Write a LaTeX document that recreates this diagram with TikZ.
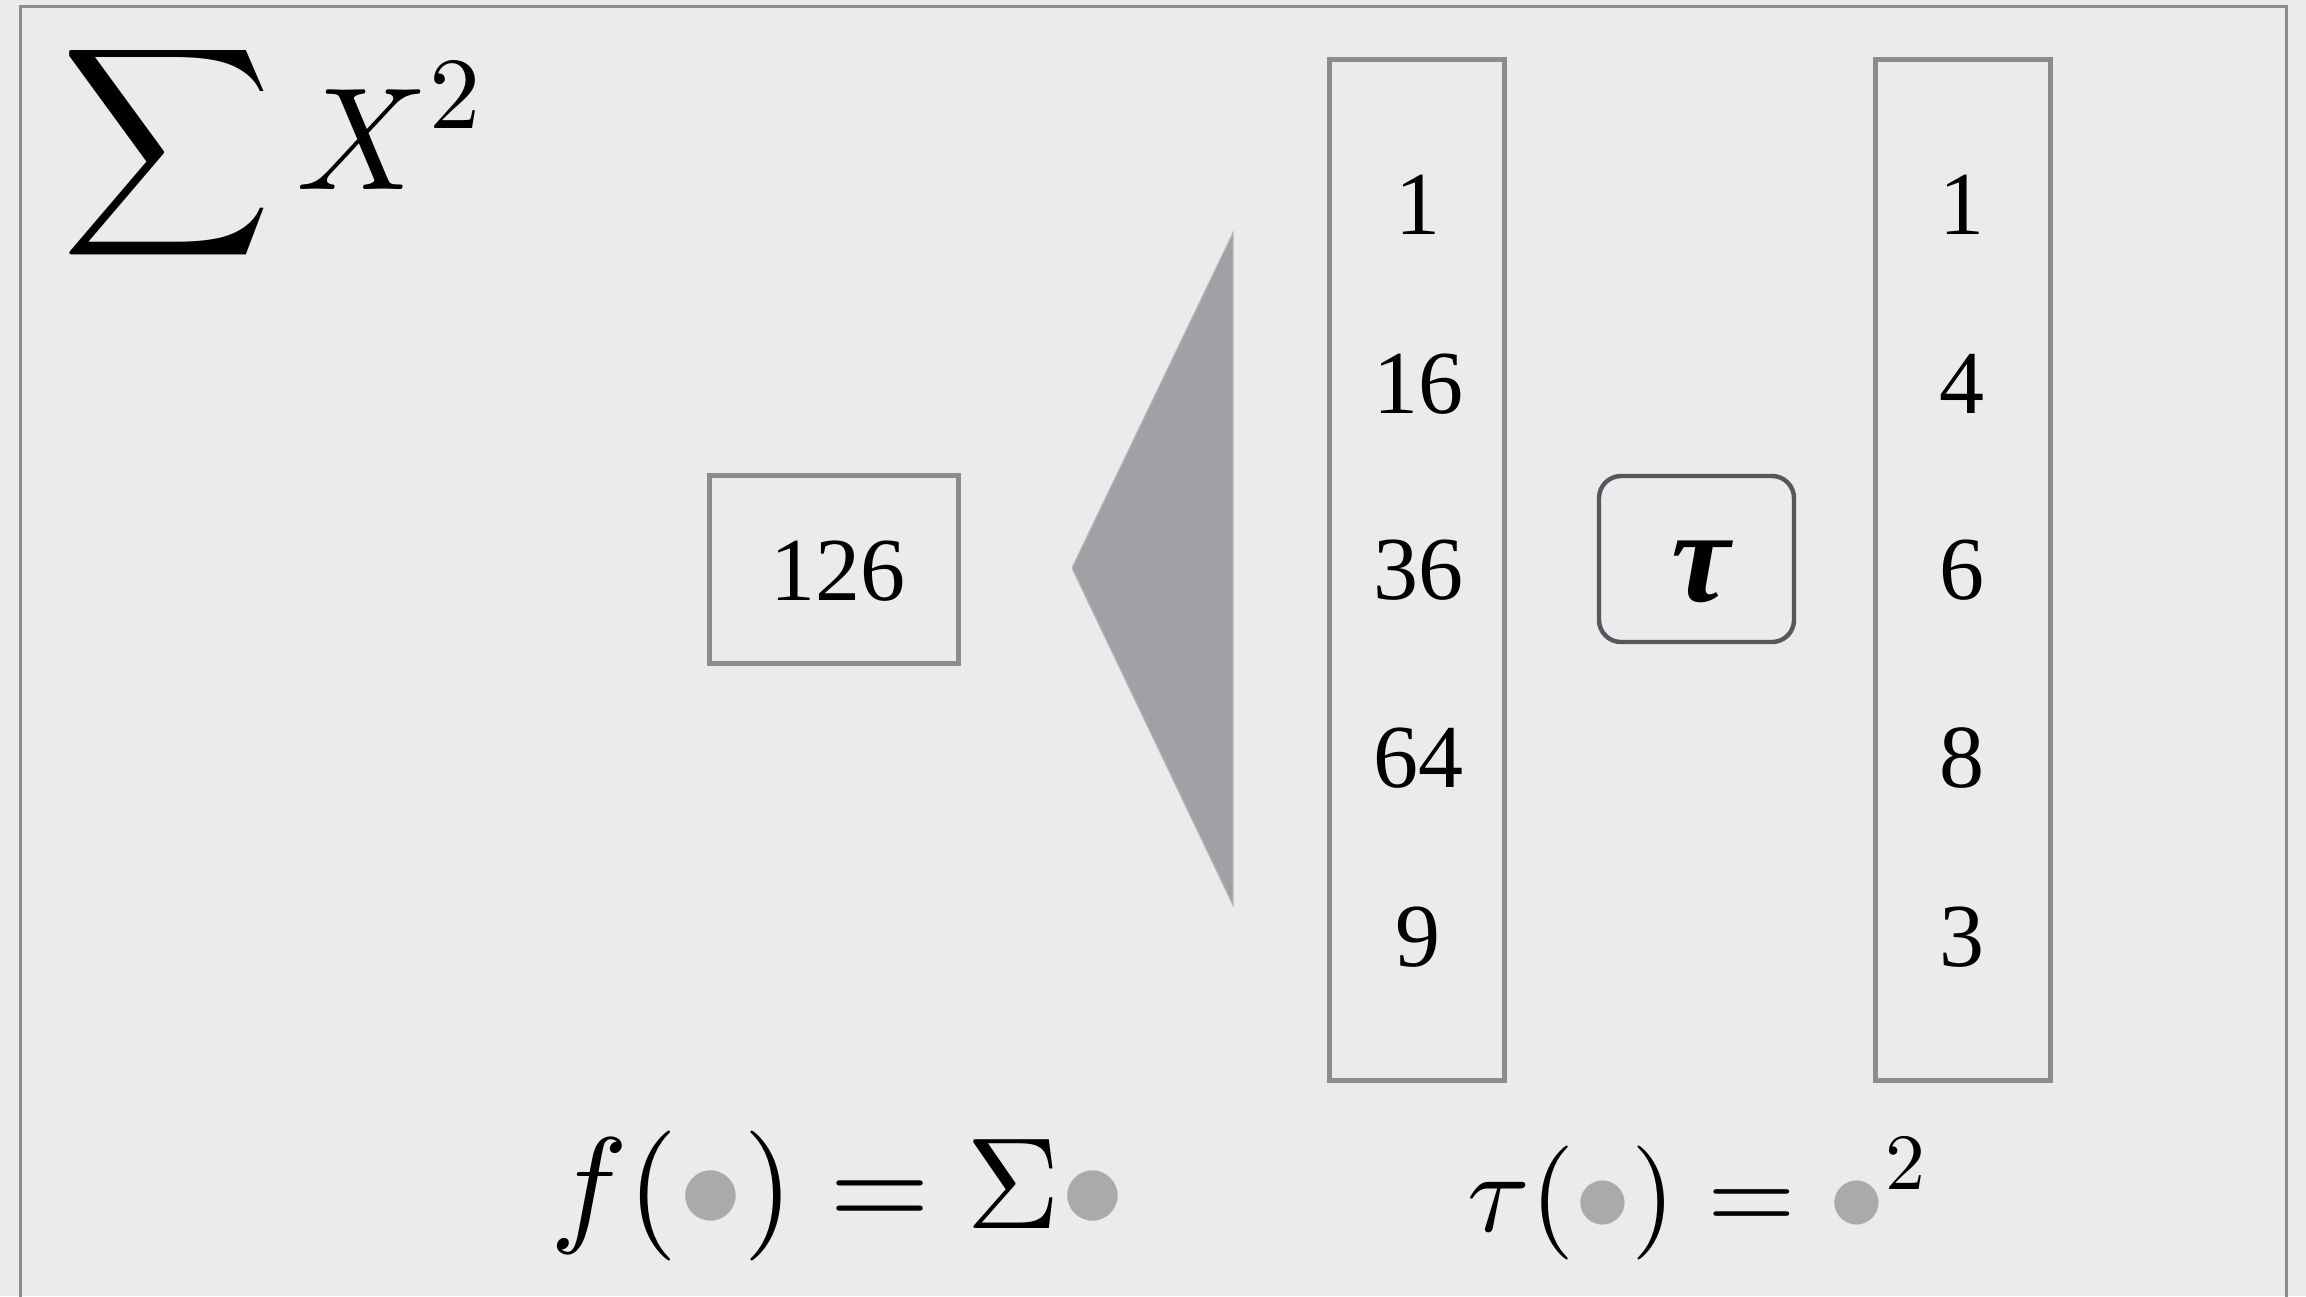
\documentclass[tikz,border=0pt]{standalone}
\usepackage{amsmath}
\usepackage[no-math]{fontspec}
\DeclareFontShape{OT1}{cmr}{m}{n}{<-> cmr10}{}
\DeclareFontShape{OML}{cmm}{m}{it}{<-> cmmi10}{}
\DeclareFontShape{OMS}{cmsy}{m}{n}{<-> cmsy10}{}
\DeclareFontShape{OMX}{cmex}{m}{n}{<-> cmex10}{}
\newfontfamily\numfont{Liberation Serif}
\definecolor{bg}{RGB}{235,235,235}
\definecolor{linegray}{RGB}{138,140,144}
\definecolor{taugray}{RGB}{84,88,94}
\definecolor{trifill}{RGB}{160,161,165}
\definecolor{dotgray}{RGB}{170,170,170}
\newcommand{\graydot}{\textcolor{dotgray}{\bullet}}
\tikzset{
  colbox/.style={draw=linegray, line width=2.5pt, rectangle, inner sep=0pt,
    minimum width=87.5pt, minimum height=510.25pt},
  sumbox/.style={draw=linegray, line width=2.5pt, rectangle, inner sep=0pt,
    minimum width=124.5pt, minimum height=94pt},
  taubox/.style={draw=taugray, line width=2.2pt, rectangle, rounded corners=11pt,
    inner sep=0pt, minimum width=97.5pt, minimum height=83pt},
  numtext/.style={font=\numfont\fontsize{45}{50}\selectfont, inner sep=0pt, anchor=base},
  mathtext/.style={inner sep=0pt, anchor=base},
}
\begin{document}
\begin{tikzpicture}[x=0.5pt,y=-0.5pt]
\useasboundingbox (0,0) rectangle (2306,1296);
\fill[bg] (0,0) rectangle (2306,1296);
\clip (0,0) rectangle (2306,1296);
% outer frame (bottom edge lies outside the picture)
\draw[linegray, line width=1.5pt] (20,1400) -- (20,6) -- (2286.5,6) -- (2286.5,1400);

% title formula
\node[mathtext, anchor=base west, font=\fontsize{73}{80}\selectfont] (title) at (61,189) {$\displaystyle\sum X^2$};

% result box
\node[sumbox] (res) at (834,569.5) {};
\node[numtext] (r126) at (838,600) {126};

% reduction triangle
\fill[trifill, draw=trifill!80!white, line width=0.6pt] (1072,568) -- (1233,233) -- (1233,905) -- cycle;

% column of squares
\node[colbox] (col1) at (1416.5,569.75) {};
\node[numtext] (a1) at (1418,234) {1};
\node[numtext] (a2) at (1418,413) {16};
\node[numtext] (a3) at (1418,599) {36};
\node[numtext] (a4) at (1418,787) {64};
\node[numtext] (a5) at (1418,966) {9};

% tau box
\node[taubox] (tbox) at (1696.5,559) {};
\node[inner sep=0pt, font=\numfont\bfseries\itshape\fontsize{66}{70}\selectfont] (tau) at (1701,572) {τ};

% column of inputs
\node[colbox] (col2) at (1962.5,569.75) {};
\node[numtext] (b1) at (1962,234) {1};
\node[numtext] (b2) at (1962,413) {4};
\node[numtext] (b3) at (1962,599) {6};
\node[numtext] (b4) at (1962,787) {8};
\node[numtext] (b5) at (1962,966) {3};

% bottom formulas
\node[mathtext, font=\fontsize{65}{70}\selectfont] (feq) at (838,1228) {$f(\graydot)=\Sigma\graydot$};
\node[mathtext, font=\fontsize{57}{60}\selectfont] (teq) at (1697,1231) {$\tau(\graydot)=\graydot^2$};
\end{tikzpicture}
\end{document}
